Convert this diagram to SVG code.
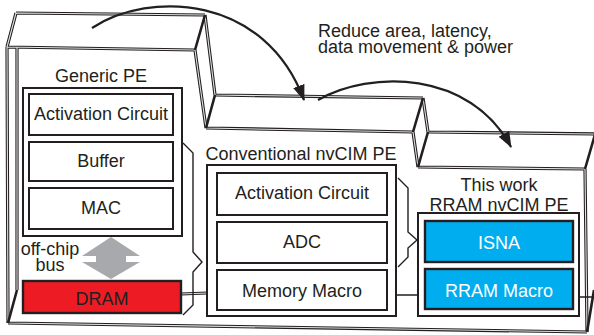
<svg xmlns="http://www.w3.org/2000/svg" xmlns:xlink="http://www.w3.org/1999/xlink" width="594" height="335" viewBox="0 0 594 335">
<style>
.dl{fill:none;stroke:#231f20;stroke-width:3.2;stroke-linejoin:miter}
.dli{fill:none;stroke:#e4e4e4;stroke-width:1.1}
.thk{fill:none;stroke:#231f20;stroke-width:2.6}
.thin{fill:none;stroke:#231f20;stroke-width:1.4}
.box{fill:#fff;stroke:#231f20;stroke-width:2}
.t{font-family:"Liberation Sans",Arial,sans-serif;font-size:18px;fill:#231f20;text-anchor:middle}
.w{fill:#fff}
.blue{fill:#00aeef;stroke:#231f20;stroke-width:2.4}
.red{fill:#ed1c24;stroke:#231f20;stroke-width:2.4}
</style>
<defs>
<path id="dbl" d="M16,13 L205,15 M16,13 L7,47 M7,47 L195,50 M205,15 L215,95 M195,50 L206,128 M215,95 L423,98 M206,128 L413,132 M423,98 L428,132 M413,132 L418,167 M428,132 L598,134 M418,167 L585,169 M7,47 L8,323 M17,47 L17,290 M8,323 L587,332 M585,169 L587,332 M181,294 L207,293"/>
<marker id="ah" viewBox="0 0 16 12" refX="15" refY="6" markerWidth="16" markerHeight="12" markerUnits="userSpaceOnUse" orient="auto">
<path d="M0,0 L16,6 L0,12 Z" fill="#231f20"/>
</marker>
</defs>
<rect width="594" height="335" fill="#fff"/>
<g id="frame">
<use xlink:href="#dbl" class="dl"/>
<use xlink:href="#dbl" class="dli"/>
<path class="thk" d="M205,15 L195,50 M215,95 L206,128 M423,98 L413,132 M428,132 L418,167 M17,290 L8,323 M585,169 L596,131 M594,290 L587,332"/>
<path class="thin" d="M396,295 L418,295 M579,297 L594,297"/>
</g>
<g id="connectors">
<path class="thin" d="M183,143 L193,153 L193,252 L202,262 L193,272 L193,305 L183,315"/>
<path class="thin" d="M398,178 L408,188 L408,232 L417,240 L408,248 L408,257 L398,267"/>
<path d="M92,28 C150,-10 265,-5 304,100" fill="none" stroke="#231f20" stroke-width="2.2" marker-end="url(#ah)"/>
<path d="M318,100 C370,70 470,70 511,147" fill="none" stroke="#231f20" stroke-width="2.2" marker-end="url(#ah)"/>
<polygon points="111,237 140,256 126,256 126,262 140,262 111,279 82,262 96,262 96,256 82,256" fill="#a7a9ac"/>
</g>
<g id="note">
<text class="t" x="318" y="37" style="text-anchor:start">Reduce area, latency,</text>
<text class="t" x="318" y="53" style="text-anchor:start">data movement &amp; power</text>
</g>
<g id="generic-pe">
<text class="t" x="101" y="82">Generic PE</text>
<rect class="box" x="23" y="88" width="159" height="148"/>
</g>
<g id="g-activation">
<rect class="box" x="29" y="94" width="144" height="41"/>
<text class="t" x="101" y="120">Activation Circuit</text>
</g>
<g id="g-buffer">
<rect class="box" x="29" y="142" width="144" height="39"/>
<text class="t" x="101" y="167">Buffer</text>
</g>
<g id="g-mac">
<rect class="box" x="29" y="188" width="144" height="41"/>
<text class="t" x="101" y="214">MAC</text>
</g>
<g id="bus-label">
<text class="t" x="50" y="255">off-chip</text>
<text class="t" x="50" y="271">bus</text>
</g>
<g id="dram">
<rect class="red" x="23" y="281" width="158" height="32"/>
<text class="t" x="102" y="305">DRAM</text>
</g>
<g id="conventional-pe">
<text class="t" x="301" y="160">Conventional nvCIM PE</text>
<rect class="box" x="207" y="165" width="189" height="151"/>
</g>
<g id="c-activation">
<rect class="box" x="217" y="173" width="170" height="42"/>
<text class="t" x="302" y="199">Activation Circuit</text>
</g>
<g id="c-adc">
<rect class="box" x="217" y="222" width="170" height="41"/>
<text class="t" x="302" y="248">ADC</text>
</g>
<g id="c-memory">
<rect class="box" x="217" y="270" width="170" height="40"/>
<text class="t" x="302" y="297">Memory Macro</text>
</g>
<g id="this-work-pe">
<text class="t" x="499" y="191">This work</text>
<text class="t" x="499" y="211">RRAM nvCIM PE</text>
<rect class="box" x="418" y="213" width="161" height="103"/>
</g>
<g id="isna">
<rect class="blue" x="425" y="221" width="148" height="41"/>
<text class="t w" x="499" y="249">ISNA</text>
</g>
<g id="rram-macro">
<rect class="blue" x="425" y="269" width="148" height="40"/>
<text class="t w" x="499" y="297">RRAM Macro</text>
</g>
</svg>
